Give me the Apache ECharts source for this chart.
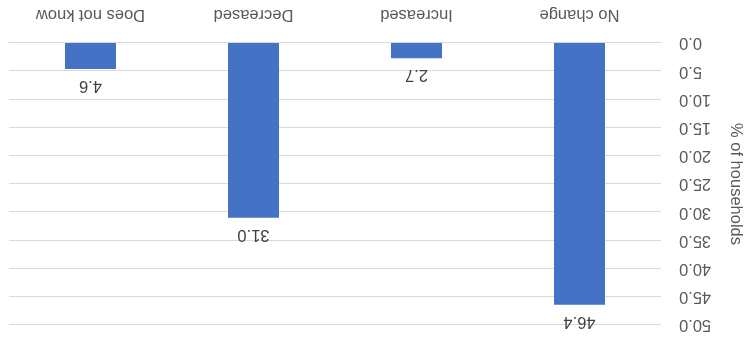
<!DOCTYPE html>
<html lang="en">
	<head>
		<meta charset="UTF-8">
		<title></title>
		<style type="text/css">
			html,
			body {
				padding: 0;
				margin: 0;
				overflow: hidden;
				background-color: #ffffff;
				width: 100%;
				height: 100%;
			}
			#main {
				width: 744px;
				height: 338px;
				/* the reference is drawn upside down */
				transform: rotate(180deg);
			}
		</style>
	</head>
	<body>
		<div id="main"></div>
		<script type="text/javascript" src="https://cdn.jsdelivr.net/npm/echarts@6/dist/echarts.min.js"></script>
		<script type="text/javascript">
			const categories = ['No change', 'Increased', 'Decreased', 'Does not know'];
			const shares = [46.4, 2.7, 31.0, 4.6];
			const yMin = 0;
			const yMax = 50;
			const yStep = 5;

			const font = '"Liberation Sans", Arial, sans-serif';
			const grey = '#595959';

			const chart = echarts.init(document.getElementById('main'));
			chart.setOption({
				animation: false,
				textStyle: { fontFamily: font },
				grid: { left: 83, right: 9, top: 13, bottom: 43, outerBoundsMode: 'none', containLabel: false },
				xAxis: {
					type: 'category',
					data: categories,
					axisLine: { show: true, lineStyle: { color: '#d9d9d9' } },
					axisTick: { show: false },
					axisLabel: { color: grey, fontSize: 16.5, margin: 20 }
				},
				yAxis: {
					type: 'value',
					min: yMin,
					max: yMax,
					interval: yStep,
					name: '% of households',
					nameLocation: 'middle',
					nameRotate: 90,
					nameGap: 66,
					nameTextStyle: { color: grey, fontSize: 16.5 },
					axisLine: { show: false },
					axisTick: { show: false },
					axisLabel: {
						color: grey,
						fontSize: 16.5,
						margin: 18,
						formatter: function (v) { return v.toFixed(1); }
					},
					splitLine: { lineStyle: { color: '#d9d9d9', width: 1 } }
				},
				series: [{
					type: 'bar',
					data: shares,
					barWidth: 51,
					itemStyle: { color: '#4472c4' },
					label: {
						show: true,
						position: 'top',
						distance: 8,
						color: '#404040',
						fontSize: 16.5,
						formatter: function (p) { return p.value.toFixed(1); }
					}
				}]
			});
		</script>
	</body>
</html>
